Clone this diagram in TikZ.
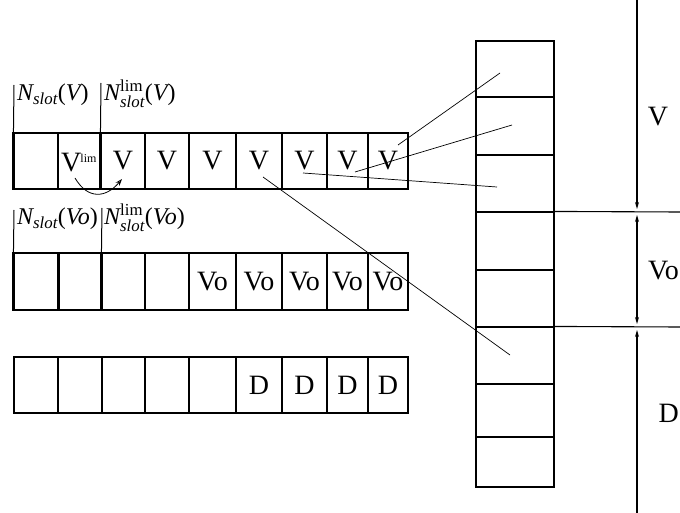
\documentclass[tikz,border=0pt]{standalone}
\usepackage{amsmath}
\usepackage{fontspec}
\setmainfont{Liberation Serif}
\usetikzlibrary{arrows.meta}
\newcommand{\Nl}[1]{$\textit{N}_{\textit{slot}}\textrm{(}\textit{#1}\textrm{)}$}
\newcommand{\Nlim}[1]{$\textit{N}^{\textrm{lim}}_{\textit{slot}}\textrm{(}\textit{#1}\textrm{)}$}
\begin{document}
\begin{tikzpicture}[x=1pt,y=-1pt,
  cellbox/.style={draw, line width=1.1pt, inner sep=0pt, font=\fontsize{28}{30}\selectfont},
  colbox/.style={draw, line width=1.1pt, inner sep=0pt, minimum width=78pt},
  thickline/.style={line width=2pt},
  mapline/.style={line width=0.7pt},
  lbl/.style={inner sep=0pt, anchor=west, font=\fontsize{24}{26}\selectfont},
  big/.style={inner sep=0pt, font=\fontsize{28}{30}\selectfont},
  dimarrow/.style={line width=1.1pt, -{Stealth[length=7pt,width=4pt]}}
]
\useasboundingbox (0,0) rectangle (680,513);
% rows of cells
\foreach \a/\b/\t [count=\i] in {14/58/,58/101/,101/145/V,145/189/V,189/236/V,236/282/V,282/327/V,327/368/V,368/408/V}{
  \node[cellbox, minimum width={(\b-\a)*1pt}, minimum height=56pt] (ra\i) at ({(\a+\b)/2},161) {\t};
}
\foreach \a/\b/\t [count=\i] in {14/59/,59/102/,102/145/,145/189/,189/236/Vo,236/282/Vo,282/327/Vo,327/368/Vo,368/408/Vo}{
  \node[cellbox, minimum width={(\b-\a)*1pt}, minimum height=57pt] (rb\i) at ({(\a+\b)/2},281.5) {\t};
}
\foreach \a/\b/\t [count=\i] in {14/58/,58/102/,102/145/,145/189/,189/236/,236/282/D,282/327/D,327/368/D,368/408/D}{
  \node[cellbox, minimum width={(\b-\a)*1pt}, minimum height=56pt] (rc\i) at ({(\a+\b)/2},385) {\t};
}
% V^lim
\node[big, anchor=west] (vlim) at (61,163) {V\kern-1pt\raisebox{9pt}{\fontsize{12}{13}\selectfont lim}};
% thick boundaries
\draw[thickline] (ra1.north west) -- (ra1.south west);
\draw[thickline] (ra3.north west) -- (ra3.south west);
\draw[thickline] (rb1.north west) -- (rb1.south west);
\draw[thickline] (rb2.north west) -- (rb2.south west);
\draw[thickline] (rb3.north west) -- (rb3.south west);
% markers row 1
\coordinate (ma1) at (14,85);
\coordinate (ma2) at (101,83);
\draw[line width=1pt] (ma1) -- (ra1.north west);
\draw[line width=1pt] (ma2) -- (ra3.north west);
\node[lbl] (na1) at (17,95) {\Nl{V}};
\node[lbl] (na2) at (104,94) {\Nlim{V}};
% markers row 2
\coordinate (mb1) at (14,210);
\coordinate (mb2) at (102,208);
\draw[line width=1pt] (mb1) -- (rb1.north west);
\draw[line width=1pt] (mb2) -- (rb3.north west);
\node[lbl] (nb1) at (17,219) {\Nl{Vo}};
\node[lbl] (nb2) at (104,218) {\Nlim{Vo}};
% curved arrow
\coordinate (ca1) at (75,178);
\coordinate (ca2) at (122,179);
\draw[line width=0.8pt, -{Stealth[length=7pt,width=5pt,open]}] (ca1) .. controls (88,200) and (106,198) .. (ca2);
% right column
\foreach \a/\b [count=\i] in {41/97,97/155,155/212,212/270,270/327,327/384,384/437,437/487}{
  \node[colbox, minimum height={(\b-\a)*1pt}] (k\i) at (515,{(\a+\b)/2}) {};
}
% extension lines
\coordinate (e1) at (680,212);
\coordinate (e2) at (680,327);
\draw[line width=1.1pt] (k4.north east) -- (e1);
\draw[line width=1.1pt] (k6.north east) -- (e2);
% dimension line
\coordinate (d0) at (637,0);
\coordinate (d1) at (637,209);
\coordinate (d2) at (637,215);
\coordinate (d3) at (637,324);
\coordinate (d4) at (637,330);
\coordinate (d5) at (637,513);
\draw[dimarrow] (d0) -- (d1);
\draw[dimarrow, {Stealth[length=7pt,width=4pt]}-{Stealth[length=7pt,width=4pt]}] (d2) -- (d3);
\draw[dimarrow] (d5) -- (d4);
\node[big] (lv) at (658,117) {V};
\node[big, anchor=east] (lvo) at (679,271) {Vo};
\node[big, anchor=east] (ld) at (679,413) {D};
% mapping lines
\coordinate (p1) at (398,145); \coordinate (q1) at (500,73);
\coordinate (p2) at (355,172); \coordinate (q2) at (512,125);
\coordinate (p3) at (303,173); \coordinate (q3) at (497,187);
\coordinate (p4) at (263,177); \coordinate (q4) at (510,355);
\draw[mapline] (p1) -- (q1);
\draw[mapline] (p2) -- (q2);
\draw[mapline] (p3) -- (q3);
\draw[mapline] (p4) -- (q4);
\end{tikzpicture}
\end{document}
